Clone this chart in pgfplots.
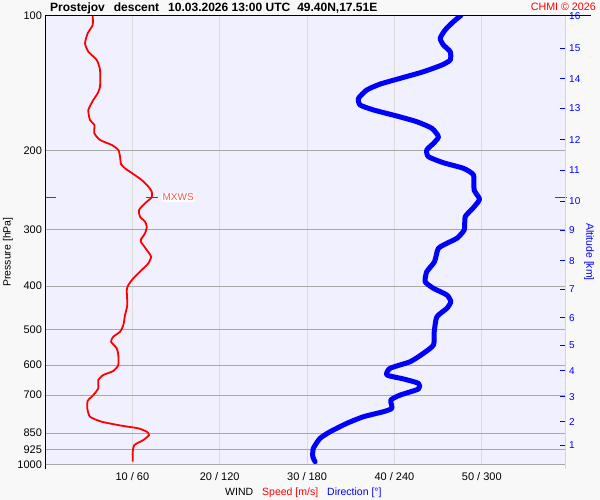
\documentclass[border=0pt]{standalone}
\usepackage{pgfplots}
\pgfplotsset{compat=1.18}
\usepackage{fontspec}
\setmainfont{Liberation Sans}
\definecolor{plotbg}{HTML}{F0F0FF}
\definecolor{pagebg}{HTML}{F8F8F8}
\definecolor{hgrid}{HTML}{A8A8A8}
\definecolor{vgrid}{HTML}{DCDCDC}
\definecolor{edge}{HTML}{D4D4E0}
\definecolor{wred}{HTML}{FF0000}
\definecolor{wblue}{HTML}{0000FF}
\definecolor{mxred}{HTML}{FF5555}

% speed [m/s] vs pressure [hPa]
\pgfplotstableread{
s p
5.46 100
5.46 105.0
4.89 109.5
4.58 115.3
4.96 120.4
5.92 125.6
6.30 132.2
6.30 144.0
6.03 149.0
5.53 154.2
4.96 162.3
5.15 170.9
5.65 175.3
5.65 182.9
6.30 189.3
7.64 194.2
8.39 199.2
8.59 206.2
8.70 214.1
9.16 218.9
10.11 225.4
11.07 232.4
11.83 240.4
12.22 246.7
12.22 253.9
11.45 261.8
10.76 271.0
10.88 280.5
11.45 287.7
11.65 295.2
11.45 305.4
10.99 314.9
10.96 318.8
11.65 332.7
12.14 344.3
11.83 356.2
11.07 368.6
10.11 384.6
9.54 398.1
9.36 408.5
9.42 441.0
9.16 464.2
8.97 488.7
8.59 505.8
7.82 518.8
7.56 532.3
8.21 550.6
8.39 569.8
8.39 599.8
7.82 618.5
6.68 631.3
6.10 647.7
6.10 675.9
5.53 699.8
4.89 720.6
4.84 749.0
5.15 782.0
6.49 802.3
8.78 818.8
10.68 829.9
11.65 844.5
11.91 859.0
11.26 881.0
10.23 904.0
10.04 935.6
10.04 984.7
}\speed

% direction [deg] vs pressure [hPa]
\pgfplotstableread{
d p
285.6 100
280.5 103.2
274.8 107.7
271.4 112.4
273.6 116.3
278.3 120.4
278.3 125.6
272.5 128.9
259.9 133.4
243.9 138.0
230.2 142.1
221.0 146.5
215.3 152.9
216.4 158.2
225.6 162.3
241.6 167.4
255.4 172.4
265.7 178.3
270.2 186.2
266.8 192.6
262.2 199.2
263.3 206.2
273.6 212.7
287.4 218.9
294.3 226.5
294.7 244.6
298.4 256.5
293.8 268.7
288.6 280.5
287.9 300.2
282.9 313.3
278.3 318.8
270.2 329.8
267.5 353.3
262.2 371.8
261.1 391.5
266.8 404.9
276.0 419.0
278.7 433.7
276.0 448.6
269.1 468.6
267.3 505.8
266.8 541.5
259.9 564.9
250.8 589.8
237.0 610.0
234.8 631.3
246.2 644.4
256.5 659.0
256.5 678.3
243.9 699.8
237.5 717.8
238.2 749.0
232.4 762.1
218.7 782.0
207.3 808.9
195.8 844.5
188.9 873.5
184.3 919.4
183.9 959.8
185.5 984.7
}\direction

\begin{document}
\begin{tikzpicture}
\fill[pagebg] (0pt,0pt) rectangle (600pt,500pt);
\path[use as bounding box] (0pt,0pt) rectangle (600pt,500pt);

\begin{axis}[at={(45pt,35.3pt)}, anchor=south west, scale only axis,
  width=520.7pt, height=449.2pt, clip=false,
  xmin=0, xmax=59.6, ymode=log, y dir=reverse, ymin=100, ymax=1000,
  axis background/.style={fill=plotbg},
  axis line style={draw=none},
  xtick={10,20,30,40,50},
  xticklabels={10 / 60, 20 / 120, 30 / 180, 40 / 240, 50 / 300},
  ytick={100,200,300,400,500,600,700,850,925,1000},
  yticklabels={100,200,300,400,500,600,700,850,925,1000},
  yminorticks=false, xminorticks=false,
  xmajorgrids, ymajorgrids,
  x grid style={vgrid, line width=0.9pt},
  y grid style={hgrid, line width=0.9pt},
  major tick length=0pt,
  tick label style={font=\fontsize{11}{13}\selectfont},
  xticklabel style={yshift=-4pt},
  yticklabel style={xshift=0.5pt}]
\addplot[wred, line width=1.8pt, smooth, tension=0.35] table[x=s, y=p] {\speed};
% MXWS marks
\draw[wred, line width=1pt] (axis cs:0,253.9) -- (axis cs:1.25,253.9);
\draw[wred, line width=1pt] (axis cs:11.55,253.9) -- (axis cs:12.9,253.9);
\draw[wred, line width=1pt] (axis cs:58.4,253.9) -- (axis cs:59.8,253.9);
\node[anchor=west, fill=white, inner sep=0.8pt, text=mxred, font=\fontsize{10}{12}\selectfont]
  at (axis cs:13.35,253.9) {MXWS};
\end{axis}

\begin{axis}[at={(45pt,35.3pt)}, anchor=south west, scale only axis,
  width=520.7pt, height=449.2pt,
  xmin=0, xmax=357.6, ymode=log, y dir=reverse, ymin=100, ymax=1000,
  axis x line=none, axis y line*=right,
  y axis line style={edge, line width=0.9pt},
  ytick={100.1,118.3,138.2,160.9,189.3,220.8,258.8,300.3,352,406.8,470.8,541.5,618.5,705.9,802.3,905.3},
  yticklabels={16,15,14,13,12,11,10,9,8,7,6,5,4,3,2,1},
  yminorticks=false,
  tick align=inside, major tick length=6pt,
  ytick style={wblue, line width=1pt},
  yticklabel style={text=wblue, font=\fontsize{10}{12}\selectfont}]
\addplot[wblue, line width=5pt, line cap=round, line join=round, smooth, tension=0.35]
  table[x=d, y=p] {\direction};
\end{axis}

% frame lines
\draw[black, line width=1pt] (45pt,484.5pt) -- (591pt,484.5pt);
\draw[black, line width=1pt] (45pt,484.5pt) -- (45pt,30.5pt);
\draw[edge, line width=0.9pt] (565.7pt,35.3pt) -- (565.7pt,30.5pt);

% titles and labels
\node[anchor=base west, inner sep=0pt, font=\fontsize{12}{14}\selectfont\bfseries]
  at (50pt,488pt) {Prostejov\hspace{9pt}descent\hspace{9pt}10.03.2026 13:00 UTC\hspace{7pt}49.40N,17.51E};
\node[anchor=base east, inner sep=0pt, text=wred, font=\fontsize{10.7}{13}\selectfont]
  at (596pt,489.5pt) {CHMI © 2026};
\node[anchor=base west, inner sep=0pt, font=\fontsize{10.5}{12}\selectfont]
  at (225pt,4.5pt) {WIND\hspace{9pt}\textcolor{wred}{Speed [m/s]}\hspace{9pt}\textcolor{wblue}{Direction [°]}};
\node[rotate=90, inner sep=0pt, font=\fontsize{10.5}{12}\selectfont] at (8pt,248pt) {Pressure [hPa]};
\node[rotate=-90, inner sep=0pt, text=wblue, font=\fontsize{10.5}{12}\selectfont] at (589pt,248pt) {Altitude [km]};
\end{tikzpicture}
\end{document}
